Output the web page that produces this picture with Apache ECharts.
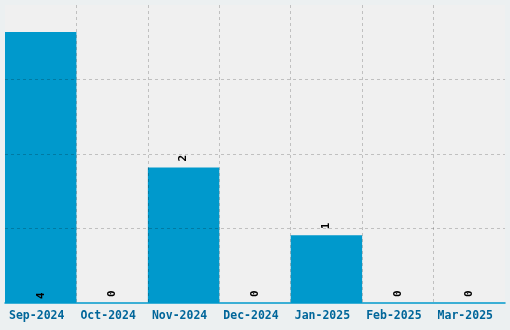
<!DOCTYPE html>
<html><head><meta charset="utf-8">
<style>html,body{margin:0;padding:0;background:#ecf0f1;}#c{width:510px;height:330px;}</style>
<script src="https://cdn.jsdelivr.net/npm/echarts@6/dist/echarts.min.js"></script>
</head><body><div id="c"></div>
<script>
var categories = ['Sep-2024','Oct-2024','Nov-2024','Dec-2024','Jan-2025','Feb-2025','Mar-2025'];
var values = [4, 0, 2, 0, 1, 0, 0];
var insideBottomIndex = [0];

var chart = echarts.init(document.getElementById('c'));
var font = 'DejaVu Sans Mono';
chart.setOption({
  backgroundColor: '#ecf0f1',
  animation: false,
  grid: {left: 5, right: 5, top: 5, bottom: 27, show: true, backgroundColor: '#f0f0f0', borderWidth: 0},
  xAxis: {
    type: 'category', data: categories, z: 5,
    axisLine: {lineStyle: {color: '#0099cc', width: 1.5}},
    axisTick: {show: false},
    axisLabel: {color: '#00669a', fontFamily: font, fontWeight: 'bold', fontSize: 11.5, margin: 7, interval: 0,
      padding: [0, 8, 0, 0]},
    splitLine: {show: true, interval: 0, showMinLine: false, showMaxLine: false,
      lineStyle: {color: 'rgba(0,0,0,0.2)', type: [3, 3], width: 1}}
  },
  yAxis: {
    type: 'value', min: 0, max: 4.4, interval: 1.1, z: 5,
    axisLabel: {show: false}, axisLine: {show: false}, axisTick: {show: false},
    splitLine: {showMinLine: false, showMaxLine: false,
      lineStyle: {color: 'rgba(0,0,0,0.2)', type: [3, 3], width: 1}}
  },
  series: [{
    type: 'bar', barCategoryGap: 0, z: 2,
    itemStyle: {color: '#0099cc'},
    data: values.map(function (v, i) {
      var d = {value: v};
      if (insideBottomIndex.indexOf(i) >= 0) d.label = {position: 'insideBottom', distance: 4};
      return d;
    }),
    label: {
      show: true, position: 'top', rotate: 90, distance: 6, align: 'left', verticalAlign: 'middle',
      color: '#000', fontFamily: font, fontWeight: 'bold', fontSize: 11
    }
  }]
});
</script></body></html>
